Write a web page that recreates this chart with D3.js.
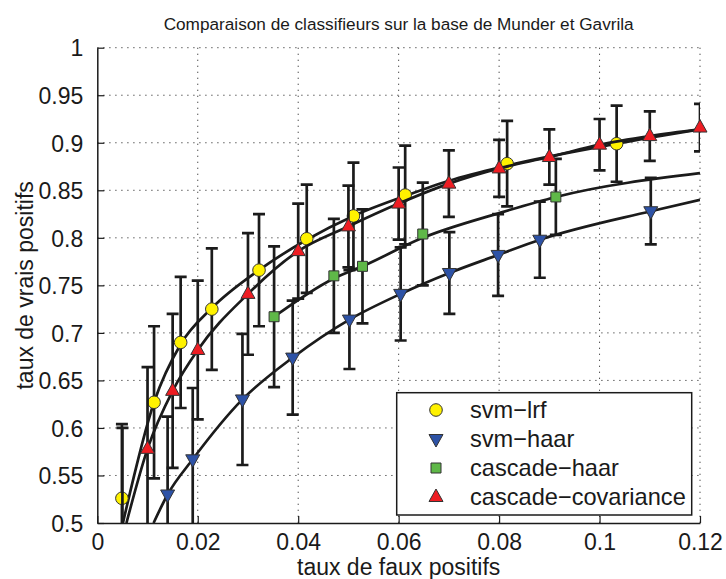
<!DOCTYPE html>
<html>
<head>
<meta charset="utf-8">
<script src="https://cdn.jsdelivr.net/npm/d3@7"></script>
<style>
  html, body { margin: 0; padding: 0; background: #fff; }
  svg { display: block; font-family: "Liberation Sans", Arial, Helvetica, sans-serif; }
</style>
</head>
<body>
<svg id="chart" width="726" height="579"></svg>
<script>
// ---------- data ----------
const titleText = "Comparaison de classifieurs sur la base de Munder et Gavrila";
const xLabelText = "taux de faux positifs";
const yLabelText = "taux de vrais positifs";

const xTicks = [0, 0.02, 0.04, 0.06, 0.08, 0.1, 0.12];
const xTickLabels = ["0", "0.02", "0.04", "0.06", "0.08", "0.1", "0.12"];
const yTicks = [0.5, 0.55, 0.6, 0.65, 0.7, 0.75, 0.8, 0.85, 0.9, 0.95, 1];
const yTickLabels = ["0.5", "0.55", "0.6", "0.65", "0.7", "0.75", "0.8", "0.85", "0.9", "0.95", "1"];

const seriesNames = ["svm\u2212lrf", "svm\u2212haar", "cascade\u2212haar", "cascade\u2212covariance"];

// svm-lrf (yellow circles)
const lrfX   = [0.0049, 0.0113, 0.0166, 0.0228, 0.0322, 0.0417, 0.0510, 0.0613, 0.0816, 0.1034];
const lrfY   = [0.526, 0.627, 0.690, 0.725, 0.766, 0.799, 0.823, 0.845, 0.878, 0.899];
const lrfErr = [0.078, 0.080, 0.069, 0.064, 0.059, 0.057, 0.056, 0.052, 0.045, 0.040];
const lrfFitX = [0.0051, 0.0113, 0.0166, 0.0228, 0.0322, 0.0417, 0.0510, 0.0613, 0.0700, 0.0816, 0.1034, 0.12];
const lrfFitY = [0.500, 0.627, 0.688, 0.726, 0.766, 0.798, 0.823, 0.844, 0.860, 0.876, 0.899, 0.914];

// svm-haar (blue down triangles)
const haarX   = [0.0140, 0.0190, 0.0289, 0.0389, 0.0502, 0.0604, 0.0701, 0.0798, 0.0881, 0.1102];
const haarY   = [0.530, 0.567, 0.630, 0.674, 0.714, 0.741, 0.763, 0.782, 0.798, 0.828];
const haarErr = [0.082, 0.075, 0.069, 0.060, 0.052, 0.049, 0.043, 0.043, 0.040, 0.035];
const haarFitX = [0.0112, 0.0140, 0.0190, 0.0289, 0.0389, 0.0502, 0.0604, 0.0701, 0.0798, 0.0881, 0.1102, 0.12];
const haarFitY = [0.500, 0.530, 0.567, 0.630, 0.674, 0.714, 0.741, 0.763, 0.782, 0.798, 0.828, 0.840];

// cascade-haar (green squares)
const cascX   = [0.0352, 0.0471, 0.0528, 0.0648, 0.0913];
const cascY   = [0.717, 0.760, 0.770, 0.804, 0.843];
const cascErr = [0.074, 0.060, 0.060, 0.054, 0.040];
const cascFitX = [0.0352, 0.0470, 0.0528, 0.0648, 0.0800, 0.0913, 0.12];
const cascFitY = [0.717, 0.757, 0.770, 0.800, 0.826, 0.843, 0.868];

// cascade-covariance (red triangles)
const covX   = [0.005, 0.01, 0.015, 0.02, 0.03, 0.04, 0.05, 0.06, 0.07, 0.08, 0.09, 0.1, 0.11, 0.12];
const covY   = [0.490, 0.578, 0.639, 0.682, 0.741, 0.786, 0.812, 0.836, 0.857, 0.873, 0.885, 0.898, 0.907, 0.916];
const covErr = [0.110, 0.086, 0.081, 0.073, 0.064, 0.050, 0.043, 0.038, 0.035, 0.030, 0.029, 0.027, 0.026, 0.025];
const covFitX = [0.0058, 0.01, 0.015, 0.02, 0.03, 0.04, 0.05, 0.06, 0.07, 0.08, 0.09, 0.1, 0.11, 0.12];
const covFitY = [0.500, 0.578, 0.639, 0.682, 0.741, 0.786, 0.812, 0.836, 0.857, 0.873, 0.885, 0.898, 0.907, 0.914];

// ---------- layout ----------
const W = 726, H = 579;
const plot = { left: 97.3, top: 47.7, right: 700, bottom: 523 };
const lineColor = "#1b1b1b";

const x = d3.scaleLinear().domain([0, 0.12]).range([plot.left, plot.right]);
const y = d3.scaleLinear().domain([0.5, 1]).range([plot.bottom, plot.top]);

const svg = d3.select("#chart");
svg.append("rect").attr("width", W).attr("height", H).attr("fill", "#fff");

svg.append("defs").append("clipPath").attr("id", "clip")
  .append("rect")
  .attr("x", plot.left).attr("y", plot.top)
  .attr("width", plot.right - plot.left).attr("height", plot.bottom - plot.top);

// grid
const grid = svg.append("g").attr("stroke", "#3a3a3a").attr("stroke-width", 1)
  .attr("stroke-dasharray", "1.2,4.8").attr("fill", "none");
grid.selectAll("line.vx").data(xTicks.slice(1)).join("line")
  .attr("x1", d => x(d)).attr("x2", d => x(d))
  .attr("y1", plot.top).attr("y2", plot.bottom);
grid.selectAll("line.hy").data(yTicks.slice(1)).join("line")
  .attr("x1", plot.left).attr("x2", plot.right)
  .attr("y1", d => y(d)).attr("y2", d => y(d));

// axes (MATLAB style, ticks inward, box off)
const xAxis = d3.axisBottom(x).tickValues(xTicks).tickSizeInner(-7).tickSizeOuter(0)
  .tickFormat((d, i) => xTickLabels[i]).tickPadding(14);
const yAxis = d3.axisLeft(y).tickValues(yTicks).tickSizeInner(-7).tickSizeOuter(0)
  .tickFormat((d, i) => yTickLabels[i]).tickPadding(14);

const gx = svg.append("g").attr("transform", `translate(0,${plot.bottom})`).call(xAxis);
const gy = svg.append("g").attr("transform", `translate(${plot.left},0)`).call(yAxis);
[gx, gy].forEach(g => {
  g.select(".domain").attr("stroke", lineColor).attr("stroke-width", 1.5);
  g.selectAll(".tick line").attr("stroke", lineColor).attr("stroke-width", 1.2);
  g.selectAll(".tick text").attr("fill", "#1a1a1a").attr("font-size", 23)
    .attr("font-family", "'Liberation Sans', Arial, sans-serif");
});
gx.selectAll(".tick text").attr("dy", "0.55em");
gy.selectAll(".tick text").attr("dy", "0.36em");

// titles
svg.append("text").attr("x", (plot.left + plot.right) / 2).attr("y", 30)
  .attr("text-anchor", "middle").attr("font-size", 17.2).attr("fill", "#1a1a1a")
  .text(titleText);
svg.append("text").attr("x", (plot.left + plot.right) / 2).attr("y", 575)
  .attr("text-anchor", "middle").attr("font-size", 23).attr("fill", "#1a1a1a")
  .text(xLabelText);
svg.append("text")
  .attr("transform", `translate(33,${(plot.top + plot.bottom) / 2}) rotate(-90)`)
  .attr("text-anchor", "middle").attr("font-size", 23).attr("fill", "#1a1a1a")
  .text(yLabelText);

// ---------- series ----------
const zip = (xs, ys) => xs.map((v, i) => [v, ys[i]]);
const series = [
  { name: seriesNames[0], pts: lrfX.map((v, i) => ({ x: v, y: lrfY[i], e: lrfErr[i] })), fit: zip(lrfFitX, lrfFitY), shape: "circle", fill: "#fff200" },
  { name: seriesNames[1], pts: haarX.map((v, i) => ({ x: v, y: haarY[i], e: haarErr[i] })), fit: zip(haarFitX, haarFitY), shape: "down", fill: "#2d52a6" },
  { name: seriesNames[2], pts: cascX.map((v, i) => ({ x: v, y: cascY[i], e: cascErr[i] })), fit: zip(cascFitX, cascFitY), shape: "square", fill: "#5fb848" },
  { name: seriesNames[3], pts: covX.map((v, i) => ({ x: v, y: covY[i], e: covErr[i] })), fit: zip(covFitX, covFitY), shape: "up", fill: "#ee1d23" }
];

function markerPath(shape) {
  if (shape === "circle") return d3.symbol().type(d3.symbolCircle).size(Math.PI * 6.3 * 6.3)();
  if (shape === "square") return "M-5,-5H5V5H-5Z";
  if (shape === "up") return "M0,-8L7,4.5L-7,4.5Z";
  if (shape === "down") return "M0,8L7,-4.5L-7,-4.5Z";
}

const line = d3.line().x(d => x(d[0])).y(d => y(d[1])).curve(d3.curveMonotoneX);
const capHalf = 6;
const inDomain = p => p.y >= 0.5 && p.y <= 1 && p.x >= 0 && p.x <= 0.12;

series.forEach(s => {
  const g = svg.append("g");
  const clipped = g.append("g").attr("clip-path", "url(#clip)");
  // fitted curve
  clipped.append("path").datum(s.fit).attr("d", line)
    .attr("fill", "none").attr("stroke", lineColor).attr("stroke-width", 2.7)
    .attr("stroke-linejoin", "round");
  // error bars
  const eb = clipped.append("g").attr("stroke", lineColor).attr("stroke-width", 2.7).attr("fill", "none");
  eb.selectAll("path").data(s.pts).join("path")
    .attr("d", d => {
      const cx = x(d.x), y0 = y(d.y - d.e), y1 = y(d.y + d.e);
      return `M${cx},${y0}V${y1}M${cx - capHalf},${y1}H${cx + capHalf}M${cx - capHalf},${y0}H${cx + capHalf}`;
    });
  // markers
  g.append("g").selectAll("path").data(s.pts.filter(inDomain)).join("path")
    .attr("transform", d => `translate(${x(d.x)},${y(d.y)})`)
    .attr("d", markerPath(s.shape))
    .attr("fill", s.fill).attr("stroke", "#333").attr("stroke-width", 1);
});

// ---------- legend ----------
const leg = { x: 396.7, y: 392.7, w: 295, h: 122.3 };
const lg = svg.append("g");
lg.append("rect").attr("x", leg.x).attr("y", leg.y).attr("width", leg.w).attr("height", leg.h)
  .attr("fill", "#fff").attr("stroke", lineColor).attr("stroke-width", 1.5);
const rowY = d3.scalePoint().domain(seriesNames).range([410, 497]);
series.forEach(s => {
  lg.append("path").attr("transform", `translate(436,${rowY(s.name)})`)
    .attr("d", markerPath(s.shape)).attr("fill", s.fill).attr("stroke", "#333").attr("stroke-width", 1);
  lg.append("text").attr("x", 470).attr("y", rowY(s.name)).attr("dy", "0.36em")
    .attr("font-size", 23.6).attr("fill", "#1a1a1a").text(s.name);
});
</script>
</body>
</html>
